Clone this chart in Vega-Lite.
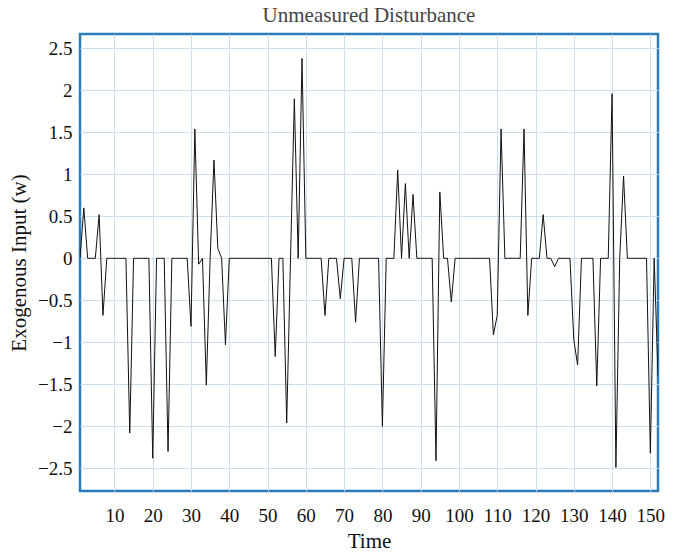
{
  "$schema": "https://vega.github.io/schema/vega-lite/v6.json",
  "autosize": {"type": "none"},
  "padding": {"left": 80, "top": 34, "right": 16, "bottom": 67},
  "width": 578,
  "height": 457,
  "title": {"text": "Unmeasured Disturbance", "font": "Liberation Serif", "fontSize": 21, "fontWeight": "normal", "color": "#444444", "offset": 8},
  "config": {
    "view": {"stroke": "#2b7bba", "strokeWidth": 2.5},
    "axis": {"labelFont": "Liberation Serif", "labelFontSize": 19, "labelColor": "#111111", "titleFont": "Liberation Serif", "titleFontSize": 21, "titleFontWeight": "normal", "titleColor": "#111111", "domain": false, "ticks": false, "gridColor": "#cddfed", "gridWidth": 1, "gridOpacity": 1}
  },
  "data": {"values": [
    {"t": 1, "w": 0}, {"t": 2, "w": 0.60}, {"t": 3, "w": 0}, {"t": 4, "w": 0}, {"t": 5, "w": 0},
    {"t": 6, "w": 0.52}, {"t": 7, "w": -0.68}, {"t": 8, "w": 0}, {"t": 9, "w": 0}, {"t": 10, "w": 0},
    {"t": 11, "w": 0}, {"t": 12, "w": 0}, {"t": 13, "w": 0}, {"t": 14, "w": -2.08}, {"t": 15, "w": 0},
    {"t": 16, "w": 0}, {"t": 17, "w": 0}, {"t": 18, "w": 0}, {"t": 19, "w": 0}, {"t": 20, "w": -2.38},
    {"t": 21, "w": 0}, {"t": 22, "w": 0}, {"t": 23, "w": 0}, {"t": 24, "w": -2.30}, {"t": 25, "w": 0},
    {"t": 26, "w": 0}, {"t": 27, "w": 0}, {"t": 28, "w": 0}, {"t": 29, "w": 0}, {"t": 30, "w": -0.81},
    {"t": 31, "w": 1.54}, {"t": 32, "w": -0.07}, {"t": 33, "w": 0}, {"t": 34, "w": -1.51}, {"t": 35, "w": 0},
    {"t": 36, "w": 1.17}, {"t": 37, "w": 0.12}, {"t": 38, "w": 0}, {"t": 39, "w": -1.03}, {"t": 40, "w": 0},
    {"t": 41, "w": 0}, {"t": 42, "w": 0}, {"t": 43, "w": 0}, {"t": 44, "w": 0}, {"t": 45, "w": 0},
    {"t": 46, "w": 0}, {"t": 47, "w": 0}, {"t": 48, "w": 0}, {"t": 49, "w": 0}, {"t": 50, "w": 0},
    {"t": 51, "w": 0}, {"t": 52, "w": -1.17}, {"t": 53, "w": 0}, {"t": 54, "w": 0}, {"t": 55, "w": -1.96},
    {"t": 56, "w": 0}, {"t": 57, "w": 1.90}, {"t": 58, "w": 0}, {"t": 59, "w": 2.38}, {"t": 60, "w": 0},
    {"t": 61, "w": 0}, {"t": 62, "w": 0}, {"t": 63, "w": 0}, {"t": 64, "w": 0}, {"t": 65, "w": -0.68},
    {"t": 66, "w": 0}, {"t": 67, "w": 0}, {"t": 68, "w": 0}, {"t": 69, "w": -0.48}, {"t": 70, "w": 0},
    {"t": 71, "w": 0}, {"t": 72, "w": 0}, {"t": 73, "w": -0.76}, {"t": 74, "w": 0}, {"t": 75, "w": 0},
    {"t": 76, "w": 0}, {"t": 77, "w": 0}, {"t": 78, "w": 0}, {"t": 79, "w": 0}, {"t": 80, "w": -2.00},
    {"t": 81, "w": 0}, {"t": 82, "w": 0}, {"t": 83, "w": 0}, {"t": 84, "w": 1.05}, {"t": 85, "w": 0},
    {"t": 86, "w": 0.89}, {"t": 87, "w": 0}, {"t": 88, "w": 0.76}, {"t": 89, "w": 0}, {"t": 90, "w": 0},
    {"t": 91, "w": 0}, {"t": 92, "w": 0}, {"t": 93, "w": 0}, {"t": 94, "w": -2.41}, {"t": 95, "w": 0.79},
    {"t": 96, "w": 0}, {"t": 97, "w": 0}, {"t": 98, "w": -0.52}, {"t": 99, "w": 0}, {"t": 100, "w": 0},
    {"t": 101, "w": 0}, {"t": 102, "w": 0}, {"t": 103, "w": 0}, {"t": 104, "w": 0}, {"t": 105, "w": 0},
    {"t": 106, "w": 0}, {"t": 107, "w": 0}, {"t": 108, "w": 0}, {"t": 109, "w": -0.91}, {"t": 110, "w": -0.68},
    {"t": 111, "w": 1.54}, {"t": 112, "w": 0}, {"t": 113, "w": 0}, {"t": 114, "w": 0}, {"t": 115, "w": 0},
    {"t": 116, "w": 0}, {"t": 117, "w": 1.54}, {"t": 118, "w": -0.68}, {"t": 119, "w": 0}, {"t": 120, "w": 0},
    {"t": 121, "w": 0}, {"t": 122, "w": 0.52}, {"t": 123, "w": 0}, {"t": 124, "w": 0}, {"t": 125, "w": -0.10},
    {"t": 126, "w": 0}, {"t": 127, "w": 0}, {"t": 128, "w": 0}, {"t": 129, "w": 0}, {"t": 130, "w": -0.97},
    {"t": 131, "w": -1.27}, {"t": 132, "w": 0}, {"t": 133, "w": 0}, {"t": 134, "w": 0}, {"t": 135, "w": 0},
    {"t": 136, "w": -1.52}, {"t": 137, "w": 0}, {"t": 138, "w": 0}, {"t": 139, "w": 0}, {"t": 140, "w": 1.96},
    {"t": 141, "w": -2.49}, {"t": 142, "w": 0}, {"t": 143, "w": 0.98}, {"t": 144, "w": 0}, {"t": 145, "w": 0},
    {"t": 146, "w": 0}, {"t": 147, "w": 0}, {"t": 148, "w": 0}, {"t": 149, "w": 0}, {"t": 150, "w": -2.32},
    {"t": 151, "w": 0}, {"t": 152, "w": -1.40}
  ]},
  "mark": {"type": "line", "color": "#111111", "strokeWidth": 1, "clip": true},
  "encoding": {
    "x": {"field": "t", "type": "quantitative", "title": "Time",
      "scale": {"domain": [1, 152], "nice": false, "zero": false},
      "axis": {"values": [10, 20, 30, 40, 50, 60, 70, 80, 90, 100, 110, 120, 130, 140, 150], "labelPadding": 15, "titlePadding": 5, "labelFlush": false}},
    "y": {"field": "w", "type": "quantitative", "title": "Exogenous Input (w)",
      "scale": {"domain": [-2.77, 2.67], "nice": false, "zero": false},
      "axis": {"values": [-2.5, -2, -1.5, -1, -0.5, 0, 0.5, 1, 1.5, 2, 2.5], "format": "~g", "labelPadding": 8, "titlePadding": 8}}
  }
}
